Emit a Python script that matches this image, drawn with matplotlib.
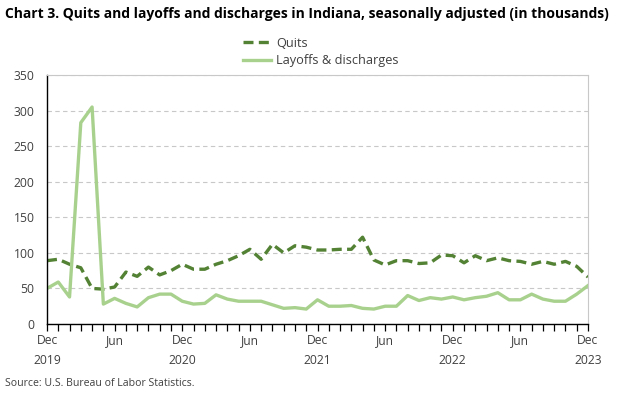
import matplotlib
matplotlib.use("Agg")
import matplotlib.pyplot as plt
import numpy as np

months = ["Dec 2019", "Jan 2020", "Feb 2020", "Mar 2020", "Apr 2020", "May 2020", "Jun 2020",
          "Jul 2020", "Aug 2020", "Sep 2020", "Oct 2020", "Nov 2020", "Dec 2020",
          "Jan 2021", "Feb 2021", "Mar 2021", "Apr 2021", "May 2021", "Jun 2021",
          "Jul 2021", "Aug 2021", "Sep 2021", "Oct 2021", "Nov 2021", "Dec 2021",
          "Jan 2022", "Feb 2022", "Mar 2022", "Apr 2022", "May 2022", "Jun 2022",
          "Jul 2022", "Aug 2022", "Sep 2022", "Oct 2022", "Nov 2022", "Dec 2022",
          "Jan 2023", "Feb 2023", "Mar 2023", "Apr 2023", "May 2023", "Jun 2023",
          "Jul 2023", "Aug 2023", "Sep 2023", "Oct 2023", "Nov 2023", "Dec 2023"]

quits = [89, 91, 84, 79, 50, 49, 52, 73, 67, 80, 69, 75, 84,
         77, 77, 84, 89, 96, 105, 91, 112, 100, 110, 108, 104,
         104, 105, 105, 122, 90, 83, 89, 89, 85, 86, 97, 96,
         86, 96, 89, 93, 89, 88, 84, 88, 84, 88, 81, 66]

layoffs = [50, 59, 38, 283, 305, 28, 36, 29, 24, 37, 42, 42, 32,
           28, 29, 41, 35, 32, 32, 32, 27, 22, 23, 21, 34,
           25, 25, 26, 22, 21, 25, 25, 40, 33, 37, 35, 38,
           34, 37, 39, 44, 34, 34, 42, 35, 32, 32, 42, 54]

tick_labels = {0: "Dec\n2019", 6: "Jun", 12: "Dec\n2020", 18: "Jun", 24: "Dec\n2021",
               30: "Jun", 36: "Dec\n2022", 42: "Jun", 48: "Dec\n2023"}
yticks = [0, 50, 100, 150, 200, 250, 300, 350]

plt.rcParams['font.family'] = ['Open Sans', 'DejaVu Sans']

fig = plt.figure(figsize=(6.24, 3.94), dpi=100)
ax = fig.add_axes([47/624, 1-324/394, (588-47)/624, (324-75)/394])

x = np.arange(len(months))
lq, = ax.plot(x, quits, color="#548235", lw=2.4, linestyle=(0, (3.0, 1.6)),
              solid_capstyle="butt", dash_capstyle="butt", label="Quits")
ll, = ax.plot(x, layoffs, color="#A9D18E", lw=2.4, label="Layoffs & discharges")

ax.set_xlim(0, len(months)-1)
ax.set_ylim(0, 350)
ax.set_yticks(yticks)
ax.set_yticklabels([str(v) for v in yticks], fontsize=8.7, color="#404040")
ax.tick_params(axis="y", length=0, pad=9)

ax.set_xticks(x, minor=False)
ax.set_xticklabels([tick_labels.get(i, "") for i in x], fontsize=8.7, color="#404040",
                   linespacing=1.7)
ax.tick_params(axis="x", direction="out", length=5, width=0.9, color="black", pad=2)

ax.grid(axis="y", color="#c8c8c8", linestyle=(0, (4, 3)), lw=0.8)
ax.set_axisbelow(True)
for s in ["top", "right"]:
    ax.spines[s].set_color("#c8c8c8")
    ax.spines[s].set_linewidth(0.8)
ax.spines["top"].set_linestyle((0, (1, 1)))
ax.spines["left"].set_color("black")
ax.spines["bottom"].set_color("black")
ax.spines["left"].set_linewidth(1.0)
ax.spines["bottom"].set_linewidth(1.0)

fig.text(5/624, 1-14/394, "Chart 3. Quits and layoffs and discharges in Indiana, seasonally adjusted (in thousands)",
         fontsize=10.0, fontweight="bold", va="center", ha="left", color="black")

leg = fig.legend(handles=[lq, ll], loc="center", bbox_to_anchor=(321/624, 1-52/394),
                 ncol=1, frameon=False, fontsize=9.2, handlelength=2.2, handletextpad=0.4,
                 labelspacing=0.35)
for t in leg.get_texts():
    t.set_color("#404040")

fig.text(5/624, 1-383/394, "Source: U.S. Bureau of Labor Statistics.", fontsize=7.6,
         va="center", ha="left", color="#404040")

fig.savefig("out.png", dpi=100)
